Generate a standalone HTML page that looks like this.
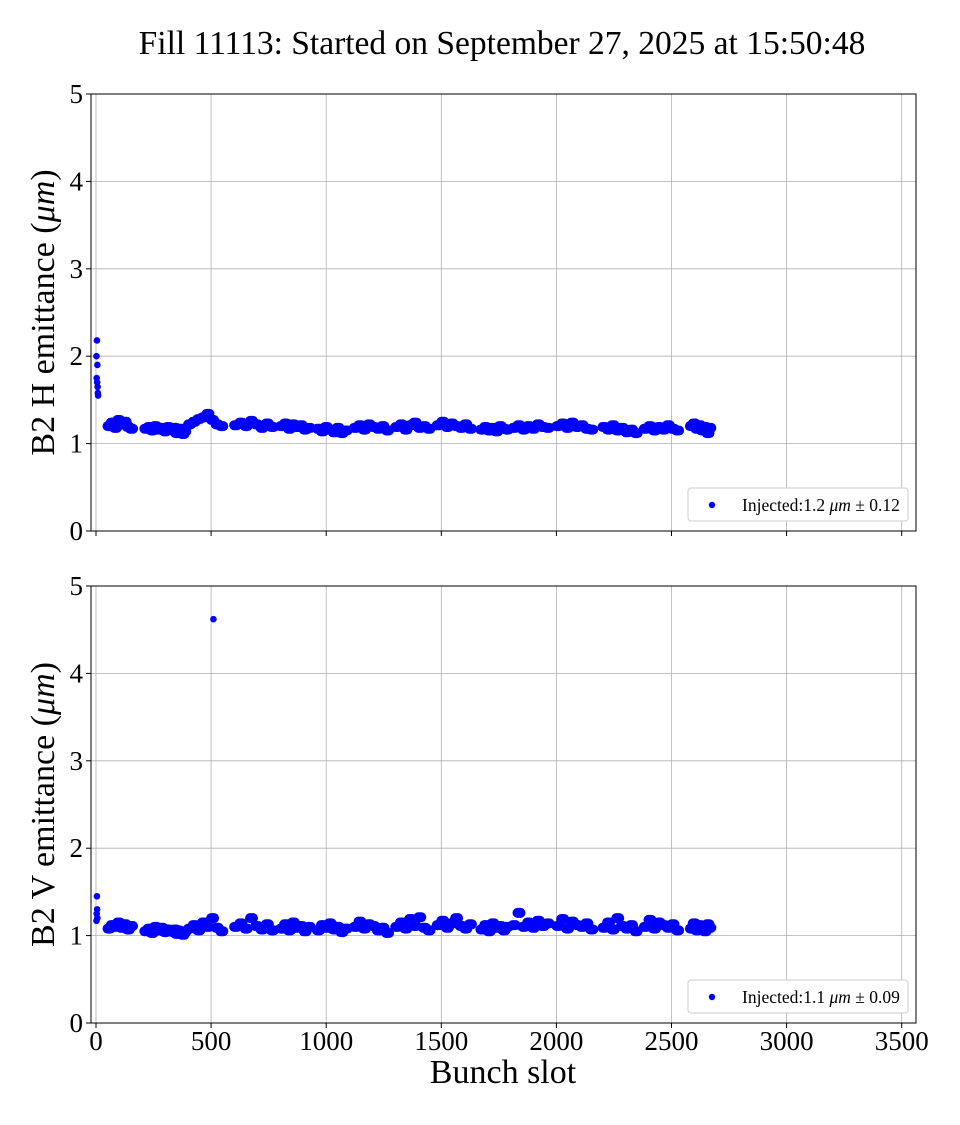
<!DOCTYPE html>
<html><head><meta charset="utf-8"><style>
body{margin:0;background:#fff}
svg text{font-family:"Liberation Serif",serif;fill:#000}
</style></head><body>
<svg id="c" width="960" height="1120" xmlns="http://www.w3.org/2000/svg"></svg>
<script>
const slots=[50,64,78,92,106,120,134,148,
210,224,238,252,266,280,294,308,
330,337,344,351,358,365,372,379,
400,420,440,460,480,500,520,540,
600,623,646,669,692,715,738,760,
800,817,834,851,868,885,902,920,
960,977,994,1011,1028,1045,1062,1080,
1120,1140,1160,1180,1200,1220,1240,1260,
1300,1320,1340,1360,1380,1400,1420,1440,
1480,1500,1520,1540,1560,1580,1600,1620,
1670,1686,1702,1718,1734,1750,1766,1780,
1810,1831,1852,1873,1894,1915,1936,1957,
2000,2021,2042,2063,2084,2105,2126,2147,
2200,2220,2240,2260,2280,2300,2320,2340,
2380,2400,2420,2440,2460,2480,2500,2520,
2580,2592,2604,2616,2628,2640,2652,2660];
const hVals=[1.20,1.24,1.18,1.27,1.22,1.25,1.19,1.17,
1.17,1.19,1.15,1.20,1.16,1.18,1.14,1.19,
1.15,1.18,1.12,1.16,1.13,1.17,1.11,1.14,
1.22,1.25,1.28,1.30,1.34,1.27,1.22,1.20,
1.21,1.24,1.20,1.26,1.22,1.18,1.23,1.19,
1.20,1.23,1.17,1.22,1.19,1.21,1.16,1.18,
1.17,1.14,1.19,1.16,1.13,1.18,1.12,1.15,
1.18,1.21,1.16,1.22,1.19,1.17,1.20,1.15,
1.19,1.22,1.16,1.21,1.24,1.18,1.20,1.17,
1.21,1.25,1.19,1.23,1.20,1.18,1.22,1.17,
1.16,1.19,1.15,1.18,1.14,1.20,1.17,1.16,
1.18,1.21,1.16,1.20,1.17,1.22,1.19,1.18,
1.20,1.23,1.18,1.24,1.19,1.21,1.17,1.16,
1.19,1.16,1.21,1.15,1.18,1.13,1.16,1.12,
1.17,1.20,1.15,1.19,1.16,1.21,1.17,1.15,
1.20,1.23,1.17,1.21,1.15,1.19,1.12,1.18];
const vVals=[1.08,1.12,1.10,1.15,1.09,1.13,1.07,1.11,
1.05,1.08,1.03,1.10,1.06,1.09,1.04,1.07,
1.04,1.07,1.02,1.06,1.03,1.05,1.01,1.04,
1.08,1.12,1.06,1.15,1.10,1.20,1.09,1.05,
1.10,1.14,1.08,1.20,1.11,1.07,1.13,1.06,
1.08,1.13,1.06,1.15,1.09,1.11,1.05,1.10,
1.06,1.12,1.09,1.14,1.07,1.10,1.04,1.08,
1.10,1.16,1.08,1.13,1.11,1.06,1.09,1.03,
1.10,1.15,1.08,1.19,1.11,1.21,1.09,1.06,
1.12,1.17,1.09,1.14,1.20,1.11,1.08,1.13,
1.07,1.12,1.05,1.14,1.09,1.11,1.06,1.10,
1.12,1.26,1.10,1.15,1.09,1.17,1.11,1.14,
1.11,1.19,1.08,1.16,1.12,1.10,1.14,1.07,
1.09,1.15,1.07,1.20,1.11,1.08,1.12,1.05,
1.10,1.18,1.08,1.15,1.12,1.09,1.13,1.06,
1.08,1.14,1.06,1.12,1.10,1.05,1.13,1.09];
const hOutSlots=[2,3,4,5,6,7,8,9];
const hOutVals=[2.0,1.75,2.18,1.7,1.9,1.65,1.58,1.55];
const vOutSlots=[2,3,4,5,6,510];
const vOutVals=[1.17,1.25,1.45,1.3,1.2,4.62];
const xTicks=[0,500,1000,1500,2000,2500,3000,3500];
const yTicks=[0,1,2,3,4,5];

const NS='http://www.w3.org/2000/svg';
const svg=document.getElementById('c');
function mk(tag,attrs,parent){const e=document.createElementNS(NS,tag);for(const k in attrs)e.setAttribute(k,attrs[k]);(parent||svg).appendChild(e);return e;}
const L=91,R=916;
const xS=v=>96+v*0.2302;

function txt(s,attrs,name){const t=mk('text',attrs);t.textContent=s;

return t;}

txt('Fill 11113: Started on September 27, 2025 at 15:50:48',{x:502,y:54,'font-size':33.5,'text-anchor':'middle'},'chart-title');

function panel(top,bottom,pfx,label,vals,oS,oV,legend,showX){
  const yS=v=>bottom-v*(bottom-top)/5;
  const g=mk('g',{});
  
  
  xTicks.forEach(t=>{const x=xS(t);
    const gl=mk('line',{x1:x,x2:x,y1:top,y2:bottom,stroke:'#b0b0b0','stroke-width':0.8},g);
    
    
    mk('line',{x1:x,x2:x,y1:bottom,y2:bottom+5,stroke:'#000','stroke-width':1},g);
    if(showX){txt(String(t),{x:x,y:bottom+27,'font-size':27,'text-anchor':'middle'},'x-tick-label');}
  });
  yTicks.forEach(t=>{const y=yS(t);
    const gl=mk('line',{x1:L,x2:R,y1:y,y2:y,stroke:'#b0b0b0','stroke-width':0.8},g);
    
    
    mk('line',{x1:L-5,x2:L,y1:y,y2:y,stroke:'#000','stroke-width':1},g);
    txt(String(t),{x:L-8,y:y+9,'font-size':27,'text-anchor':'end'},pfx+'-y-tick-label');
  });
  const frame=mk('rect',{x:L,y:top,width:R-L,height:bottom-top,fill:'none',stroke:'#000','stroke-width':1},g);
  
  
  slots.forEach((s,i)=>{const c=mk('rect',{x:xS(s)-5,y:yS(vals[i])-5,width:13,height:10,rx:5,fill:'#0000ff'},g);
    
    });
  oS.forEach((s,i)=>{const c=mk('circle',{cx:xS(s),cy:yS(oV[i]),r:3.3,fill:'#0000ff'},g);
    
    });
  const yl=txt('',{transform:`translate(54,${(top+bottom)/2}) rotate(-90)`,'font-size':34,'text-anchor':'middle'},pfx+'-y-axis-title');
  yl.innerHTML=label+' emittance (<tspan font-style="italic">μm</tspan>)';
  const lg=mk('g',{});
  
  
  mk('rect',{x:688,y:bottom-43,width:220,height:33,rx:3,fill:'#fff',stroke:'#ccc','stroke-width':1},lg);
  mk('circle',{cx:712,cy:bottom-26,r:3.2,fill:'#0000ff'},lg);
  const lt=txt('',{x:742,y:bottom-20,'font-size':17.5},pfx+'-legend-entry');
  lt.innerHTML=legend;
  lg.appendChild(lt);
}
panel(94,531,'h','B2 H',hVals,hOutSlots,hOutVals,'Injected:1.2 <tspan font-style="italic">μm</tspan> ± 0.12',false);
panel(586,1023,'v','B2 V',vVals,vOutSlots,vOutVals,'Injected:1.1 <tspan font-style="italic">μm</tspan> ± 0.09',true);
txt('Bunch slot',{x:503,y:1083,'font-size':34,'text-anchor':'middle'},'x-axis-title');
</script>
</body></html>
